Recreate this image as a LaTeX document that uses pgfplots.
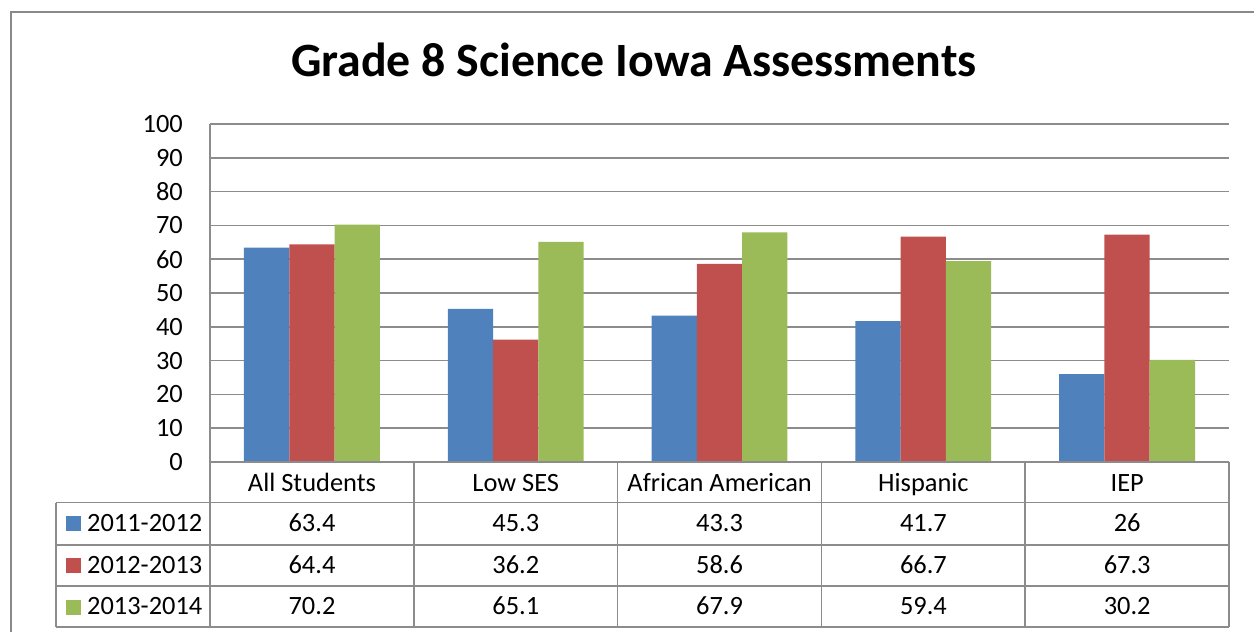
\documentclass[border=0pt]{standalone}
\usepackage{fontspec}
\setmainfont{Carlito}
\usepackage{pgfplots}
\usepackage{pgfplotstable}
\pgfplotsset{compat=1.18}
\definecolor{c1}{HTML}{4F81BD}
\definecolor{c2}{HTML}{C0504D}
\definecolor{c3}{HTML}{9BBB59}
\definecolor{gl}{HTML}{8C8C8C}
\definecolor{bd}{HTML}{898989}
\pgfplotstableread{
x a b c
0 63.4 64.4 70.2
1 45.3 36.2 65.1
2 43.3 58.6 67.9
3 41.7 66.7 59.4
4 26 67.3 30.2
}\data
\begin{document}
\begin{tikzpicture}[x=1bp,y=1bp]
\useasboundingbox (0,0) rectangle (1254,632);
\draw[line width=2bp, bd] (11,0) -- (11,620) -- (1254,620);
\node[anchor=base, font=\fontsize{48}{48}\selectfont\bfseries, inner sep=0pt] at (634,555.3) {Grade 8 Science Iowa Assessments};
\begin{axis}[at={(210bp,170bp)}, anchor=south west,
  width=1019bp, height=338bp, scale only axis,
  xmin=-0.5, xmax=4.5, ymin=0, ymax=100,
  ytick={0,10,...,100}, xtick=\empty,
  ymajorgrids, grid style={line width=1.5bp, gl},
  axis line style={draw=none},
  major tick length=0pt,
  /pgf/number format/assume math mode=true,
  yticklabel style={anchor=east, inner sep=0pt, xshift=-27bp, font=\fontsize{26.5}{26.5}\selectfont},
  clip=false]
\addplot[ybar, fill=c1, draw=none, bar width=0.2222, bar shift=-0.2222] table[x=x,y=a]{\data};
\addplot[ybar, fill=c2, draw=none, bar width=0.2222, bar shift=0] table[x=x,y=b]{\data};
\addplot[ybar, fill=c3, draw=none, bar width=0.2222, bar shift=0.2222] table[x=x,y=c]{\data};
\end{axis}
\begin{scope}[gl, line width=1.5bp]
\draw (210,508) -- (210,5);
\draw (210,170) -- (1229,170);
\draw (56,129.3) -- (1229,129.3);
\draw (56,87) -- (1229,87);
\draw (56,46) -- (1229,46);
\draw (56,5) -- (1229,5);
\draw (56,129.3) -- (56,5);
\foreach \xx in {413.8,617.6,821.4,1025.2,1229} \draw (\xx,170) -- (\xx,5);
\end{scope}
\foreach \i/\nm in {0/All Students,1/Low SES,2/African American,3/Hispanic,4/IEP}
  \node[anchor=base, inner sep=0pt, font=\fontsize{26.5}{26.5}\selectfont] at ({312+203.8*\i},140.3) {\nm};
\foreach \r in {0,...,4}{
  \foreach \c/\yy in {a/100.3,b/58.7,c/17}{
    \pgfplotstablegetelem{\r}{\c}\of\data
    \node[anchor=base, inner sep=0pt, font=\fontsize{26.5}{26.5}\selectfont] at ({312+203.8*\r},\yy) {\pgfplotsretval};
  }
}
\foreach \col/\yy/\lab in {c1/100.3/2011-2012, c2/58.7/2012-2013, c3/17/2013-2014}{
  \fill[\col] (66,\yy+0.3) rectangle ++(15,15);
  \node[anchor=base west, inner sep=0pt, font=\fontsize{26.5}{26.5}\selectfont] at (87,\yy) {\lab};
}
\end{tikzpicture}
\end{document}
